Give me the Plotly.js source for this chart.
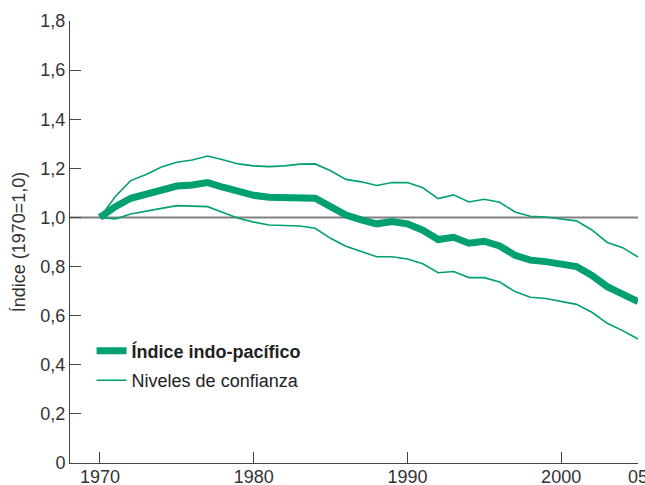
<!DOCTYPE html>
<html>
<head>
<meta charset="utf-8">
<script src="https://cdn.plot.ly/plotly-3.0.1.min.js"></script>
<style>html,body{margin:0;padding:0;background:#fff}#chart{width:645px;height:485px}</style>
</head>
<body>
<div id="chart"></div>
<script>
var years = [1970,1971,1972,1973,1974,1975,1976,1977,1978,1979,1980,1981,1982,1983,1984,1985,1986,1987,1988,1989,1990,1991,1992,1993,1994,1995,1996,1997,1998,1999,2000,2001,2002,2003,2004,2005];
var indice = [1.0,1.044,1.078,1.096,1.115,1.128,1.132,1.142,1.123,1.105,1.09,1.082,1.081,1.082,1.078,1.044,1.01,0.99,0.974,0.983,0.974,0.948,0.91,0.919,0.895,0.903,0.884,0.846,0.826,0.82,0.813,0.8,0.764,0.718,0.688,0.657];
var superior = [1.0,1.085,1.15,1.175,1.205,1.225,1.234,1.25,1.235,1.218,1.21,1.207,1.21,1.217,1.218,1.19,1.155,1.145,1.13,1.142,1.142,1.121,1.077,1.092,1.063,1.074,1.062,1.022,1.005,1.002,0.994,0.986,0.949,0.898,0.877,0.839];
var inferior = [1.0,0.994,1.014,1.024,1.037,1.048,1.047,1.044,1.02,0.997,0.981,0.969,0.967,0.965,0.956,0.915,0.883,0.862,0.84,0.84,0.831,0.811,0.775,0.78,0.755,0.755,0.737,0.698,0.675,0.67,0.657,0.646,0.614,0.569,0.539,0.505];
var xTickVals = [1970,1980,1990,2000,2005];
var xTickText = ['1970','1980','1990','2000','05'];
var yTickVals = [0,0.2,0.4,0.6,0.8,1.0,1.2,1.4,1.6,1.8];
var yTickText = ['0','0,2','0,4','0,6','0,8','1,0','1,2','1,4','1,6','1,8'];
var names = ['<b>Índice indo-pacífico</b>','Niveles de confianza'];

var green = 'rgb(0,160,112)';
var font = 'Liberation Sans, Arial, Helvetica, sans-serif';

var traces = [
  {x: years, y: superior, type: 'scatter', mode: 'lines', name: names[1], legendgroup: 'b', legendrank: 2, showlegend: false, line: {color: green, width: 1.6}},
  {x: years, y: inferior, type: 'scatter', mode: 'lines', name: names[1], legendgroup: 'b', legendrank: 2, showlegend: true, line: {color: green, width: 1.6}},
  {x: years, y: indice, type: 'scatter', mode: 'lines', name: names[0], legendgroup: 'a', legendrank: 1, showlegend: true, line: {color: green, width: 7}}
];

var layout = {
  width: 645, height: 485,
  margin: {l: 70, r: 7, t: 21, b: 22},
  paper_bgcolor: '#fff', plot_bgcolor: '#fff',
  separators: ',.',
  font: {family: font, size: 18, color: '#333'},
  showlegend: true,
  legend: {
    x: 0.038, y: 0.295, xanchor: 'left', yanchor: 'top',
    traceorder: 'grouped', tracegroupgap: 3,
    font: {family: font, size: 18, color: '#222'},
    bgcolor: 'rgba(0,0,0,0)'
  },
  xaxis: {
    range: [1968.05, 2005], tickmode: 'array', tickvals: xTickVals, ticktext: xTickText,
    ticks: 'inside', ticklen: 11, tickcolor: '#444', tickwidth: 1,
    showline: true, linecolor: '#444', linewidth: 1, showgrid: false, zeroline: false,
    ticklabeloverflow: 'allow', ticklabelstandoff: -3,
    tickfont: {family: font, size: 18, color: '#333'}
  },
  yaxis: {
    range: [0, 1.8], tickmode: 'array', tickvals: yTickVals, ticktext: yTickText,
    ticks: 'inside', ticklen: 11, tickcolor: '#444', tickwidth: 1,
    showline: true, linecolor: '#444', linewidth: 1, showgrid: false, zeroline: false,
    tickfont: {family: font, size: 18, color: '#333'},
    title: {text: 'Índice (1970=1,0)', font: {family: font, size: 18, color: '#333'}, standoff: 10}
  },
  shapes: [
    {type: 'line', xref: 'paper', x0: 0, x1: 1, yref: 'y', y0: 1, y1: 1, line: {color: '#808080', width: 2}, layer: 'below'}
  ]
};

Plotly.newPlot('chart', traces, layout, {displayModeBar: false, staticPlot: true});
</script>
</body>
</html>
